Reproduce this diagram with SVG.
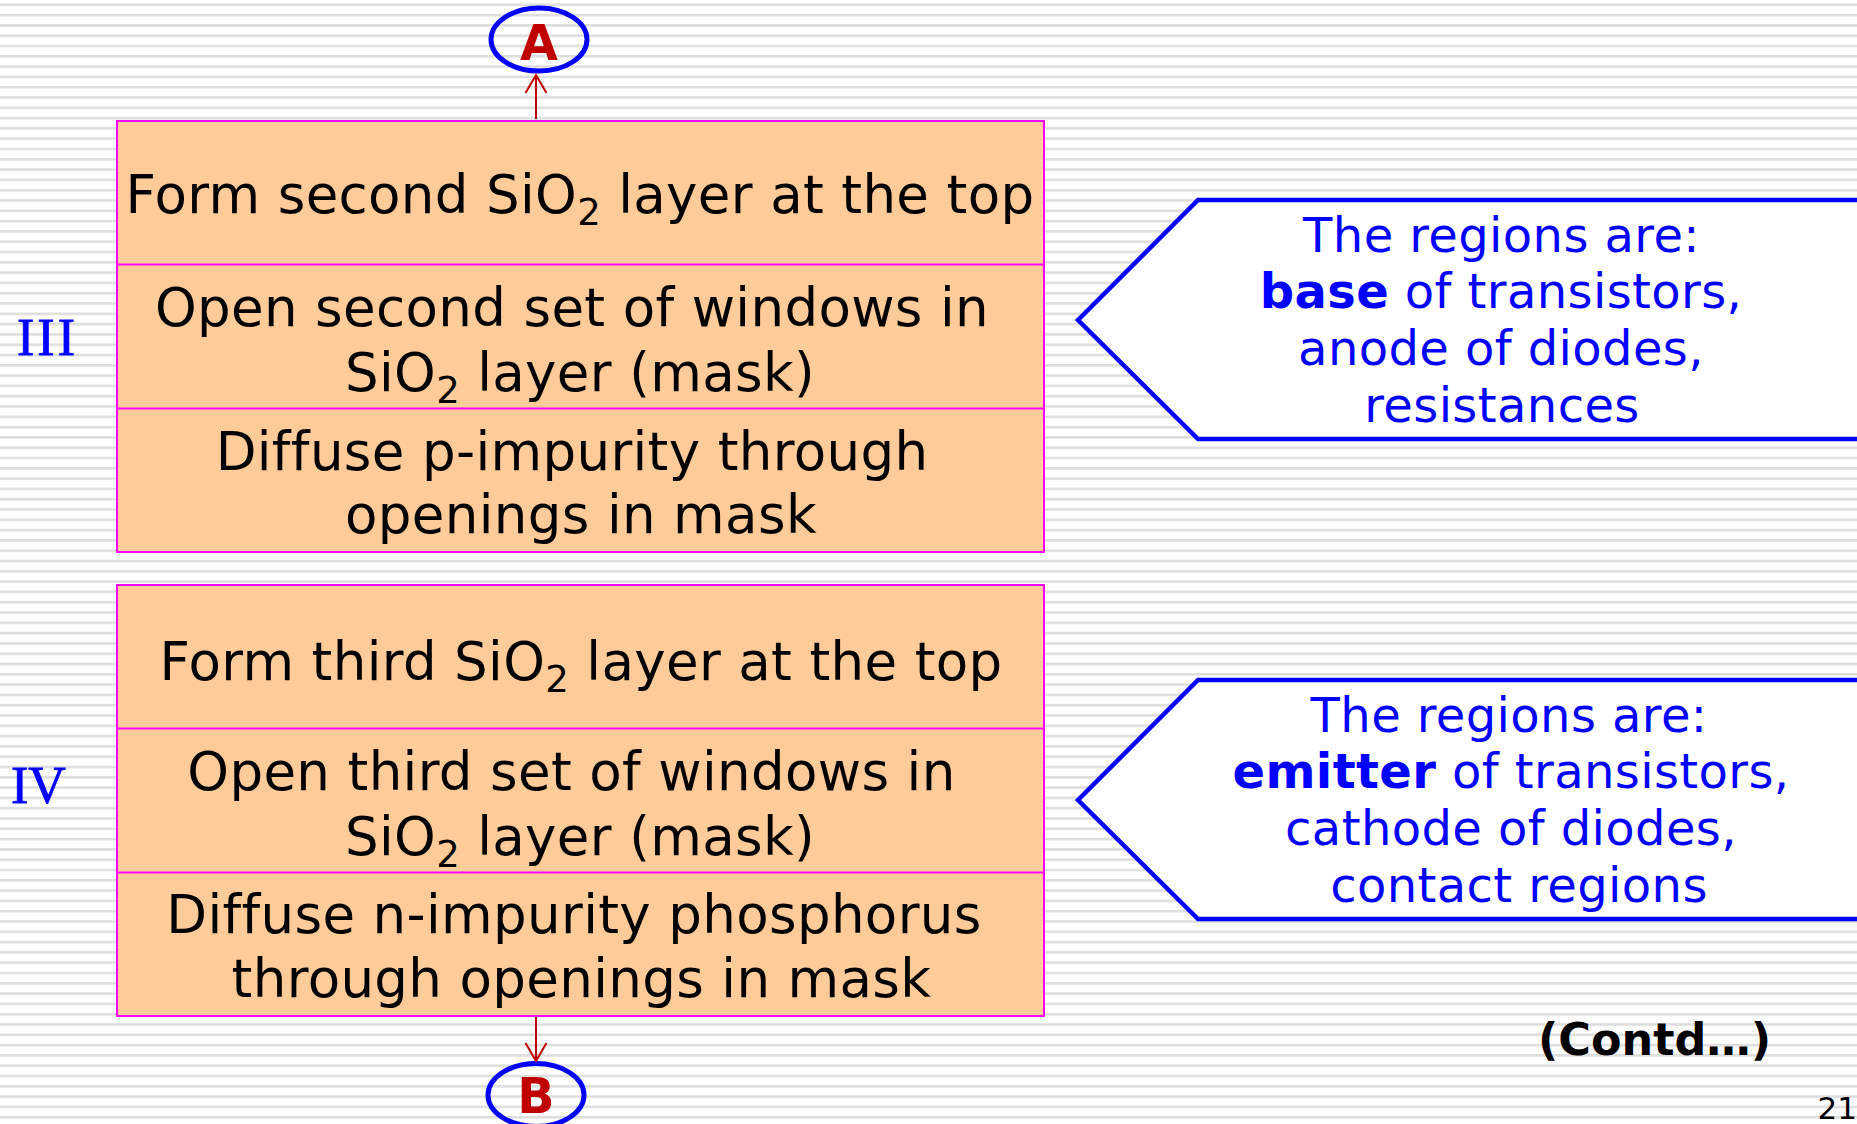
<svg xmlns="http://www.w3.org/2000/svg" width="1857" height="1124" viewBox="0 0 1857 1124">
  <defs>
    <pattern id="stripes" x="0" y="3.5" width="40" height="10.3" patternUnits="userSpaceOnUse">
      <rect x="0" y="0" width="40" height="2.6" fill="#dedede"/>
    </pattern>
    <marker id="openHead" viewBox="0 0 24 24" markerWidth="24" markerHeight="24" refX="20" refY="12" orient="auto" markerUnits="userSpaceOnUse">
      <path d="M2,1.5 L20,12 L2,22.5" fill="none" stroke="#C00000" stroke-width="2"/>
    </marker>
  </defs>
  <style>
    .step { fill: #FFCC99; stroke: #FF00FF; stroke-width: 2; }
    .divider { stroke: #FF00FF; stroke-width: 2; }
    .stepText { font-family: "DejaVu Sans", Verdana, sans-serif; font-size: 53px; letter-spacing: 0.35px; fill: #000000; text-anchor: middle; }
    .sub { font-size: 37px; }
    .callout { fill: #FFFFFF; stroke: #0000FF; stroke-width: 4.5; stroke-linejoin: miter; }
    .calloutText { font-family: "DejaVu Sans", Verdana, sans-serif; font-size: 48px; letter-spacing: 0.4px; fill: #0000FF; text-anchor: middle; }
    .bold { font-weight: bold; }
    .stage { font-family: "Liberation Serif", "Times New Roman", serif; font-size: 52px; fill: #0000FF; stroke: #0000FF; stroke-width: 0.8; }
    .connectorCircle { fill: none; stroke: #0000FF; stroke-width: 5; }
    .connectorLetter { font-family: "DejaVu Sans", Verdana, sans-serif; font-weight: bold; font-size: 49px; fill: #C00000; text-anchor: middle; }
    .flow { stroke: #C00000; stroke-width: 2; fill: none; }
    .note { font-family: "DejaVu Sans", Verdana, sans-serif; font-weight: bold; font-size: 44.5px; fill: #000000; }
    .pageNum { font-family: "DejaVu Sans", Verdana, sans-serif; font-size: 31px; fill: #000000; text-anchor: end; }
  </style>

  <!-- striped slide background -->
  <rect x="0" y="0" width="1857" height="1124" fill="#FFFFFF"/>
  <rect x="0" y="0" width="1857" height="1124" fill="url(#stripes)"/>

  <!-- stage labels -->
  <text class="stage" x="17" y="355" letter-spacing="3">III</text>
  <text class="stage" x="11" y="803">IV</text>

  <!-- stage III process steps -->
  <g id="stage3">
    <rect class="step" x="117" y="121" width="927" height="431"/>
    <line class="divider" x1="117" y1="264.5" x2="1044" y2="264.5"/>
    <line class="divider" x1="117" y1="408.5" x2="1044" y2="408.5"/>
    <text class="stepText" x="580" y="213">Form second SiO<tspan class="sub" dy="12">2</tspan><tspan dy="-12"> layer at the top</tspan></text>
    <text class="stepText" x="572" y="326">Open second set of windows in</text>
    <text class="stepText" x="580" y="391">SiO<tspan class="sub" dy="12">2</tspan><tspan dy="-12"> layer (mask)</tspan></text>
    <text class="stepText" x="572" y="470">Diffuse p-impurity through</text>
    <text class="stepText" x="581" y="533">openings in mask</text>
  </g>

  <!-- stage IV process steps -->
  <g id="stage4">
    <rect class="step" x="117" y="585" width="927" height="431"/>
    <line class="divider" x1="117" y1="728.5" x2="1044" y2="728.5"/>
    <line class="divider" x1="117" y1="872.5" x2="1044" y2="872.5"/>
    <text class="stepText" x="581" y="680">Form third SiO<tspan class="sub" dy="12">2</tspan><tspan dy="-12"> layer at the top</tspan></text>
    <text class="stepText" x="571.5" y="790">Open third set of windows in</text>
    <text class="stepText" x="580" y="855">SiO<tspan class="sub" dy="12">2</tspan><tspan dy="-12"> layer (mask)</tspan></text>
    <text class="stepText" x="574" y="933">Diffuse n-impurity phosphorus</text>
    <text class="stepText" x="581.5" y="997">through openings in mask</text>
  </g>

  <!-- explanatory callouts -->
  <g id="callout3">
    <polygon class="callout" points="1078,320 1198,200 1870,200 1870,439 1198,439"/>
    <text class="calloutText" x="1501.5" y="252">The regions are:</text>
    <text class="calloutText" x="1501" y="308"><tspan class="bold">base</tspan> of transistors,</text>
    <text class="calloutText" x="1501" y="365">anode of diodes,</text>
    <text class="calloutText" x="1502" y="422">resistances</text>
  </g>
  <g id="callout4">
    <polygon class="callout" points="1078,800 1198,680 1870,680 1870,919 1198,919"/>
    <text class="calloutText" x="1509" y="732">The regions are:</text>
    <text class="calloutText" x="1511" y="788"><tspan class="bold">emitter</tspan> of transistors,</text>
    <text class="calloutText" x="1511" y="845">cathode of diodes,</text>
    <text class="calloutText" x="1519" y="902">contact regions</text>
  </g>

  <!-- off-page connectors -->
  <g id="connectorA">
    <ellipse class="connectorCircle" cx="539" cy="39.5" rx="48" ry="31.5"/>
    <text class="connectorLetter" x="539" y="60">A</text>
  </g>
  <g id="connectorB">
    <ellipse class="connectorCircle" cx="536" cy="1095" rx="48" ry="31.5"/>
    <text class="connectorLetter" x="536" y="1113">B</text>
  </g>

  <g id="connectors">
    <line class="flow" x1="536" y1="119" x2="536" y2="75" marker-end="url(#openHead)"/>
    <line class="flow" x1="536" y1="1017" x2="536" y2="1061" marker-end="url(#openHead)"/>
  </g>

  <!-- footer -->
  <text class="note" x="1538" y="1055">(Contd…)</text>
  <text class="pageNum" x="1857" y="1119">21</text>
</svg>
